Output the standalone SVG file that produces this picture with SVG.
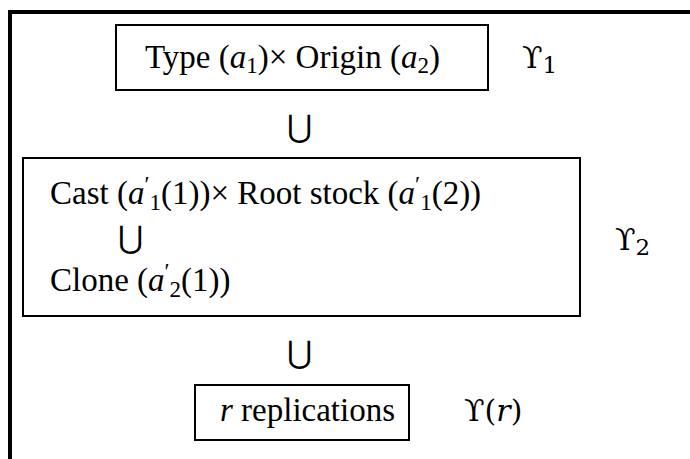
<svg xmlns="http://www.w3.org/2000/svg" width="690" height="459" viewBox="0 0 690 459">
<style>
  .t { font-family: "Liberation Serif", "Times New Roman", "DejaVu Serif", serif; font-size: 33px; fill: #000; }
  .i { font-style: italic; }
  .s { font-size: 23px; }
  .u { font-family: "DejaVu Sans", "Liberation Sans", sans-serif; font-size: 31px; fill: #000; }
  .box { fill: none; stroke: #000; stroke-width: 2; }
  .frame { fill: none; stroke: #000; stroke-width: 4; }
  .ups { font-family: "DejaVu Serif", "Liberation Serif", serif; font-size: 30px; fill: #000; }
</style>
<rect width="690" height="459" fill="#fff"/>
<g id="frame">
  <line class="frame" x1="8" y1="12" x2="690" y2="12"/>
  <line class="frame" x1="10" y1="10" x2="10" y2="459"/>
</g>
<g id="node-type-origin">
  <rect class="box" x="116" y="25" width="372" height="65"/>
  <text class="t" x="145" y="68">Type (<tspan class="i">a</tspan><tspan class="s" dy="5">1</tspan><tspan dy="-5">)× Origin (</tspan><tspan class="i">a</tspan><tspan class="s" dy="5">2</tspan><tspan dy="-5">)</tspan></text>
</g>
<g id="label-ups1">
  <text class="ups" x="522" y="68">ϒ<tspan class="s" dy="5">1</tspan></text>
</g>
<g id="union-1">
  <text class="u" x="287" y="137">⋃</text>
</g>
<g id="node-cast-root-clone">
  <rect class="box" x="23" y="158" width="557" height="158"/>
  <text class="t" x="50" y="204">Cast (<tspan class="i">a</tspan><tspan class="s" dy="-12">′</tspan><tspan class="s" dy="18">1</tspan><tspan dy="-6">(1))× Root stock (</tspan><tspan class="i">a</tspan><tspan class="s" dy="-12">′</tspan><tspan class="s" dy="18">1</tspan><tspan dy="-6">(2))</tspan></text>
  <text class="u" x="118" y="248">⋃</text>
  <text class="t" x="50" y="291">Clone (<tspan class="i">a</tspan><tspan class="s" dy="-12">′</tspan><tspan class="s" dy="18">2</tspan><tspan dy="-6">(1))</tspan></text>
</g>
<g id="label-ups2">
  <text class="ups" x="615" y="250">ϒ<tspan class="s" dy="5">2</tspan></text>
</g>
<g id="union-2">
  <text class="u" x="287" y="363">⋃</text>
</g>
<g id="node-replications">
  <rect class="box" x="195" y="385" width="214" height="55"/>
  <text class="t" x="220" y="421"><tspan class="i">r</tspan> replications</text>
</g>
<g id="label-ups-r">
  <text class="ups" x="464" y="421">ϒ(<tspan class="i">r</tspan>)</text>
</g>
<g id="connectors"/>
</svg>
